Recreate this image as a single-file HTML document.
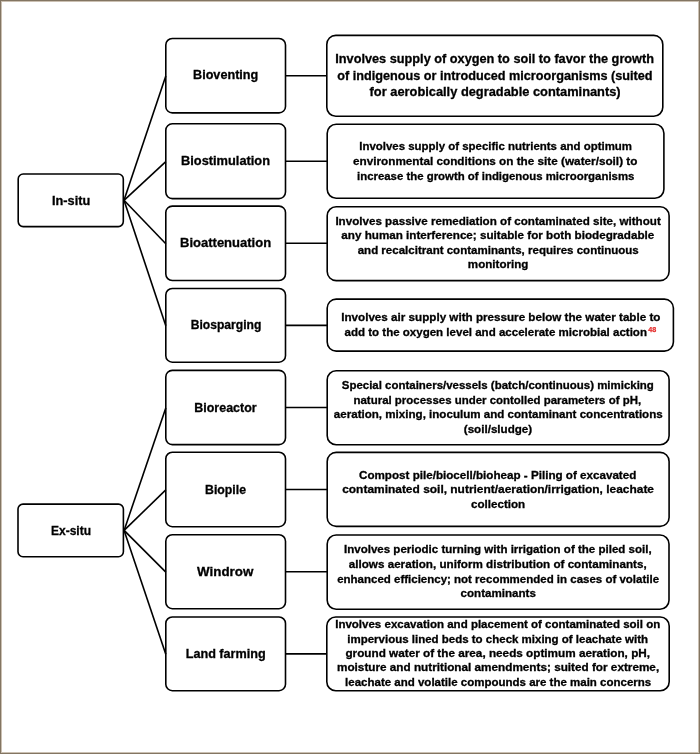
<!DOCTYPE html>
<html><head><meta charset="utf-8"><style>
html,body{margin:0;padding:0;background:#fff;}
#wrap{position:relative;width:700px;height:754px;overflow:hidden;background:#fff;}
#frame{position:absolute;left:0;top:0;width:698px;height:752px;border:1px solid #837562;box-shadow:inset 0 0 0 1px #cbc0b2;}
svg{position:absolute;left:0;top:0;will-change:transform;}
</style></head><body><div id="wrap"><div id="frame"></div>
<svg width="700" height="754" viewBox="0 0 700 754">
<g fill="none" stroke="#000" stroke-width="1.6">
<rect x="165.80" y="38.50" width="119.70" height="74.40" rx="6.5" ry="6.5"/>
<rect x="165.80" y="123.80" width="119.70" height="74.80" rx="6.5" ry="6.5"/>
<rect x="165.80" y="206.10" width="119.70" height="74.40" rx="6.5" ry="6.5"/>
<rect x="165.80" y="288.50" width="119.70" height="73.70" rx="6.5" ry="6.5"/>
<rect x="165.80" y="370.40" width="119.70" height="74.20" rx="6.5" ry="6.5"/>
<rect x="165.80" y="452.20" width="119.70" height="74.50" rx="6.5" ry="6.5"/>
<rect x="165.80" y="534.70" width="119.70" height="74.00" rx="6.5" ry="6.5"/>
<rect x="165.80" y="617.00" width="119.70" height="73.70" rx="6.5" ry="6.5"/>
<rect x="326.80" y="35.40" width="336.00" height="80.90" rx="9" ry="9"/>
<rect x="327.20" y="124.30" width="336.70" height="74.00" rx="9" ry="9"/>
<rect x="327.20" y="206.70" width="341.90" height="73.90" rx="9" ry="9"/>
<rect x="327.20" y="299.10" width="346.20" height="52.00" rx="9" ry="9"/>
<rect x="327.20" y="370.70" width="341.90" height="74.00" rx="9" ry="9"/>
<rect x="327.20" y="452.40" width="341.90" height="74.00" rx="9" ry="9"/>
<rect x="327.20" y="535.00" width="341.80" height="74.20" rx="9" ry="9"/>
<rect x="326.80" y="617.00" width="342.40" height="73.70" rx="9" ry="9"/>
<rect x="18.20" y="174.00" width="105.10" height="52.60" rx="5" ry="5"/>
<rect x="18.00" y="504.10" width="105.40" height="52.60" rx="5" ry="5"/>
<line x1="285.50" y1="75.70" x2="326.80" y2="75.70"/>
<line x1="285.50" y1="161.20" x2="327.20" y2="161.20"/>
<line x1="285.50" y1="243.30" x2="327.20" y2="243.30"/>
<line x1="285.50" y1="325.35" x2="327.20" y2="325.35"/>
<line x1="285.50" y1="407.50" x2="327.20" y2="407.50"/>
<line x1="285.50" y1="489.45" x2="327.20" y2="489.45"/>
<line x1="285.50" y1="571.70" x2="327.20" y2="571.70"/>
<line x1="285.50" y1="653.85" x2="326.80" y2="653.85"/>
<line x1="124.00" y1="200.30" x2="165.80" y2="76.10"/>
<line x1="124.00" y1="200.30" x2="165.80" y2="161.60"/>
<line x1="124.00" y1="200.30" x2="165.80" y2="243.70"/>
<line x1="124.00" y1="200.30" x2="165.80" y2="325.75"/>
<line x1="124.10" y1="530.40" x2="165.80" y2="407.90"/>
<line x1="124.10" y1="530.40" x2="165.80" y2="489.85"/>
<line x1="124.10" y1="530.40" x2="165.80" y2="572.10"/>
<line x1="124.10" y1="530.40" x2="165.80" y2="654.25"/>
</g>
<g font-family="Liberation Sans" font-weight="bold" fill="#000" stroke="#000" stroke-width="0.3">
<text x="52.00" y="204.50" font-size="12.6" textLength="38.20" lengthAdjust="spacingAndGlyphs">In-situ</text>
<text x="51.00" y="534.50" font-size="12.6" textLength="40.06" lengthAdjust="spacingAndGlyphs">Ex-situ</text>
<text x="193.00" y="79.20" font-size="12.6" textLength="65.30" lengthAdjust="spacingAndGlyphs">Bioventing</text>
<text x="181.00" y="164.70" font-size="12.6" textLength="89.01" lengthAdjust="spacingAndGlyphs">Biostimulation</text>
<text x="180.00" y="247.10" font-size="12.6" textLength="91.12" lengthAdjust="spacingAndGlyphs">Bioattenuation</text>
<text x="190.70" y="329.00" font-size="12.6" textLength="70.67" lengthAdjust="spacingAndGlyphs">Biosparging</text>
<text x="194.30" y="411.60" font-size="12.6" textLength="62.30" lengthAdjust="spacingAndGlyphs">Bioreactor</text>
<text x="205.00" y="493.60" font-size="12.6" textLength="41.00" lengthAdjust="spacingAndGlyphs">Biopile</text>
<text x="197.10" y="575.60" font-size="12.6" textLength="56.28" lengthAdjust="spacingAndGlyphs">Windrow</text>
<text x="185.70" y="657.60" font-size="12.6" textLength="79.99" lengthAdjust="spacingAndGlyphs">Land farming</text>
<text x="335.30" y="63.40" font-size="12.8" textLength="318.72" lengthAdjust="spacingAndGlyphs">Involves supply of oxygen to soil to favor the growth</text>
<text x="337.30" y="79.70" font-size="12.8" textLength="315.31" lengthAdjust="spacingAndGlyphs">of indigenous or introduced microorganisms (suited</text>
<text x="369.60" y="95.60" font-size="12.8" textLength="251.06" lengthAdjust="spacingAndGlyphs">for aerobically degradable contaminants)</text>
<text x="359.25" y="150.25" font-size="11.45" textLength="272.72" lengthAdjust="spacingAndGlyphs">Involves supply of specific nutrients and optimum</text>
<text x="353.00" y="165.20" font-size="11.45" textLength="284.39" lengthAdjust="spacingAndGlyphs">environmental conditions on the site (water/soil) to</text>
<text x="357.00" y="179.60" font-size="11.45" textLength="277.36" lengthAdjust="spacingAndGlyphs">increase the growth of indigenous microorganisms</text>
<text x="335.40" y="224.70" font-size="11.3" textLength="325.36" lengthAdjust="spacingAndGlyphs">Involves passive remediation of contaminated site, without</text>
<text x="341.30" y="239.40" font-size="11.3" textLength="312.99" lengthAdjust="spacingAndGlyphs">any human interference; suitable for both biodegradable</text>
<text x="357.70" y="253.70" font-size="11.3" textLength="281.09" lengthAdjust="spacingAndGlyphs">and recalcitrant contaminants, requires continuous</text>
<text x="467.87" y="268.20" font-size="11.3" textLength="60.47" lengthAdjust="spacingAndGlyphs">monitoring</text>
<text x="341.20" y="321.30" font-size="11.4" textLength="319.26" lengthAdjust="spacingAndGlyphs">Involves air supply with pressure below the water table to</text>
<text x="344.50" y="336.00" font-size="11.4" textLength="302.46" lengthAdjust="spacingAndGlyphs">add to the oxygen level and accelerate microbial action</text>
<text x="341.80" y="388.80" font-size="11.2" textLength="312.03" lengthAdjust="spacingAndGlyphs">Special containers/vessels (batch/continuous) mimicking</text>
<text x="353.50" y="403.80" font-size="11.2" textLength="287.61" lengthAdjust="spacingAndGlyphs">natural processes under contolled parameters of pH,</text>
<text x="333.80" y="418.20" font-size="11.2" textLength="328.93" lengthAdjust="spacingAndGlyphs">aeration, mixing, inoculum and contaminant concentrations</text>
<text x="463.81" y="432.70" font-size="11.2" textLength="68.40" lengthAdjust="spacingAndGlyphs">(soil/sludge)</text>
<text x="359.00" y="478.50" font-size="11.2" textLength="277.33" lengthAdjust="spacingAndGlyphs">Compost pile/biocell/bioheap - Piling of excavated</text>
<text x="342.20" y="493.20" font-size="11.2" textLength="311.84" lengthAdjust="spacingAndGlyphs">contaminated soil, nutrient/aeration/irrigation, leachate</text>
<text x="470.96" y="507.90" font-size="11.2" textLength="54.21" lengthAdjust="spacingAndGlyphs">collection</text>
<text x="344.00" y="553.30" font-size="11.3" textLength="307.64" lengthAdjust="spacingAndGlyphs">Involves periodic turning with irrigation of the piled soil,</text>
<text x="348.80" y="568.20" font-size="11.3" textLength="297.84" lengthAdjust="spacingAndGlyphs">allows aeration, uniform distribution of contaminants,</text>
<text x="337.20" y="582.50" font-size="11.3" textLength="321.89" lengthAdjust="spacingAndGlyphs">enhanced efficiency; not recommended in cases of volatile</text>
<text x="460.60" y="597.00" font-size="11.3" textLength="75.29" lengthAdjust="spacingAndGlyphs">contaminants</text>
<text x="335.20" y="627.90" font-size="11.0" textLength="325.11" lengthAdjust="spacingAndGlyphs">Involves excavation and placement of contaminated soil on</text>
<text x="347.30" y="642.60" font-size="11.0" textLength="300.71" lengthAdjust="spacingAndGlyphs">impervious lined beds to check mixing of leachate with</text>
<text x="345.40" y="656.80" font-size="11.0" textLength="304.66" lengthAdjust="spacingAndGlyphs">ground water of the area, needs optimum aeration, pH,</text>
<text x="337.00" y="671.30" font-size="11.0" textLength="322.16" lengthAdjust="spacingAndGlyphs">moisture and nutritional amendments; suited for extreme,</text>
<text x="345.10" y="685.70" font-size="11.0" textLength="306.12" lengthAdjust="spacingAndGlyphs">leachate and volatile compounds are the main concerns</text>
<text x="648.3" y="332.2" font-size="7.2" fill="#e5302f" stroke="#e5302f" stroke-width="0.25" font-weight="bold">48</text>
</g>
</svg></div></body></html>
